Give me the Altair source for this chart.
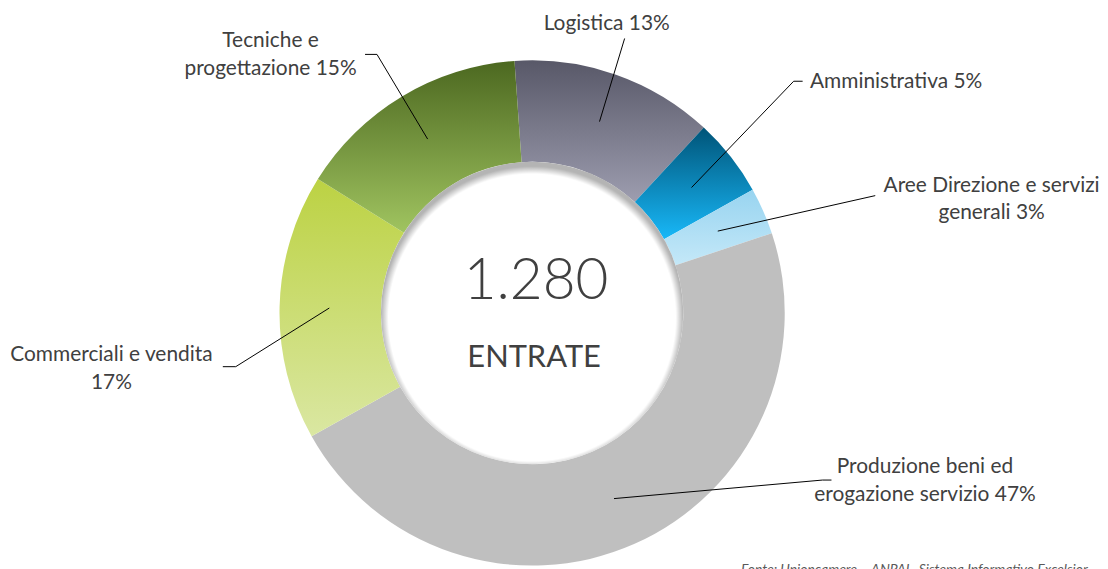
import math
import altair as alt
import pandas as pd

# ---------------- data ----------------
categories = [
    "Logistica",
    "Amministrativa",
    "Aree Direzione e servizi generali",
    "Produzione beni ed erogazione servizio",
    "Commerciali e vendita",
    "Tecniche e progettazione",
]
shares = [13, 5, 3, 47, 17, 15]
label_texts = [
    "Logistica 13%",
    "Amministrativa 5%",
    "Aree Direzione e servizi\ngenerali 3%",
    "Produzione beni ed\nerogazione servizio 47%",
    "Commerciali e vendita\n17%",
    "Tecniche e\nprogettazione 15%",
]
total_label = "1.280"
center_label = "ENTRATE"
source_note = "Fonte: Unioncamere \u2013 ANPAL, Sistema Informativo Excelsior"

# ---------------- layout / style ----------------
OFF = 8  # page margin
CX, CY = 535 - OFF, 313 - OFF
R_OUT, R_IN, R_LEAD = 254, 152, 204
START = math.radians(-4)
FONT = "Lato"
TXT = "#404040"

slice_colors = {
    "Logistica": ("#585868", "#9d9daf"),
    "Amministrativa": ("#005478", "#18b8f8"),
    "Aree Direzione e servizi generali": ("#98d4f0", "#c4e8f8"),
    "Produzione beni ed erogazione servizio": ("#bfbfbf", "#bfbfbf"),
    "Commerciali e vendita": ("#bcd243", "#dae7a2"),
    "Tecniche e progettazione": ("#4c6820", "#a0c460"),
}
label_pos = {  # page coordinates of the first line of each label
    "Logistica": (610, 22),
    "Amministrativa": (901, 81),
    "Aree Direzione e servizi generali": (997, 185),
    "Produzione beni ed erogazione servizio": (930, 468),
    "Commerciali e vendita": (112, 355),
    "Tecniche e progettazione": (272, 40),
}
leader_tail = {  # page coordinates of leader elbows / ends
    "Logistica": [(628, 37)],
    "Amministrativa": [(798, 80), (807, 80)],
    "Aree Direzione e servizi generali": [(880, 195)],
    "Produzione beni ed erogazione servizio": [(827, 481), (836, 481)],
    "Commerciali e vendita": [(237, 367), (224, 367)],
    "Tecniche e progettazione": [(379, 53), (367, 53)],
}

df = pd.DataFrame({"cat": categories, "share": shares, "order": list(range(len(categories)))})

theta_scale = alt.Scale(domain=[0, 100], range=[START, START + 2 * math.pi])

base = (
    alt.Chart(df)
    .transform_window(cum="sum(share)", sort=[alt.SortField("order")], frame=[None, 0])
    .transform_calculate(start="datum.cum - datum.share")
)

layers = []
for c in categories:
    top, bottom = slice_colors[c]
    grad = alt.LinearGradient(
        gradient="linear",
        stops=[alt.GradientStop(color=top, offset=0), alt.GradientStop(color=bottom, offset=1)],
        x1=0, x2=0, y1=0, y2=1,
    )
    layers.append(
        base.transform_filter(alt.datum.cat == c)
        .mark_arc(innerRadius=R_IN, outerRadius=R_OUT, fill=grad)
        .encode(
            theta=alt.Theta("start:Q", scale=theta_scale),
            theta2="cum:Q",
            x=alt.value(CX),
            y=alt.value(CY),
        )
    )

# inner hole with soft shadow
hole_grad = alt.RadialGradient(
    gradient="radial",
    stops=[
        alt.GradientStop(color="#ffffff", offset=0),
        alt.GradientStop(color="#ffffff", offset=0.95),
        alt.GradientStop(color="#b4b4b4", offset=1),
    ],
    x1=0.5, y1=0.515, r1=0, x2=0.5, y2=0.515, r2=0.5,
)
hole = (
    alt.Chart(pd.DataFrame({"k": [0]}))
    .mark_arc(innerRadius=0, outerRadius=R_IN, theta=0, theta2=2 * math.pi, fill=hole_grad)
    .encode(x=alt.value(CX), y=alt.value(CY))
)

# leader lines (start at slice mid-angle)
rows = []
cum = 0
for c, s in zip(categories, shares):
    mid = START + (cum + s / 2) / 100 * 2 * math.pi
    cum += s
    pts = [(CX + R_LEAD * math.sin(mid), CY - R_LEAD * math.cos(mid))]
    pts += [(px - OFF, py - OFF) for px, py in leader_tail[c]]
    for i, (px, py) in enumerate(pts):
        rows.append({"cat": c, "seq": i, "px": px, "py": py})
lead_df = pd.DataFrame(rows)
leaders = (
    alt.Chart(lead_df)
    .mark_line(color="#000000", strokeWidth=1)
    .encode(
        x=alt.X("px:Q", scale=None, axis=None),
        y=alt.Y("py:Q", scale=None, axis=None),
        detail="cat:N",
        order="seq:O",
    )
)

lab_df = pd.DataFrame({
    "txt": label_texts,
    "px": [label_pos[c][0] - OFF for c in categories],
    "py": [label_pos[c][1] - OFF for c in categories],
})
labels = (
    alt.Chart(lab_df)
    .mark_text(font=FONT, fontSize=21, color=TXT, align="center", baseline="middle",
               lineHeight=28, lineBreak="\n")
    .encode(x=alt.X("px:Q", scale=None, axis=None), y=alt.Y("py:Q", scale=None, axis=None), text="txt:N")
)

center_df = pd.DataFrame({"t": [total_label]})
big = (
    alt.Chart(center_df)
    .mark_text(font=FONT, fontSize=57, fontWeight=300, color=TXT, align="center", baseline="middle")
    .encode(x=alt.value(539 - OFF), y=alt.value(282 - OFF), text="t:N")
)
sub = (
    alt.Chart(pd.DataFrame({"t": [center_label]}))
    .mark_text(font=FONT, fontSize=31, color=TXT, align="center", baseline="middle")
    .encode(x=alt.value(537 - OFF), y=alt.value(358 - OFF), text="t:N")
)
note = (
    alt.Chart(pd.DataFrame({"t": [source_note]}))
    .mark_text(font=FONT, fontSize=14, fontStyle="italic", color="#595959", align="left", baseline="top")
    .encode(x=alt.value(745 - OFF), y=alt.value(564 - OFF), text="t:N")
)

chart = (
    alt.layer(*layers, hole, leaders, labels, big, sub, note)
    .properties(width=1092, height=600, padding=0, background="white")
    .configure_view(stroke=None)
)

chart.save("out.html", embed_options={"renderer": "svg", "actions": False})
